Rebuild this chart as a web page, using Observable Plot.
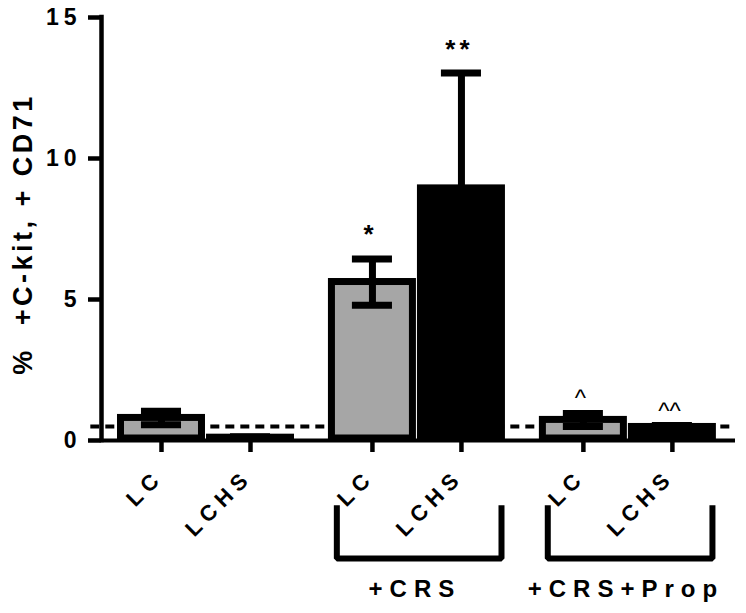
<!DOCTYPE html>
<html>
<head>
<meta charset="utf-8">
<script src="https://cdn.jsdelivr.net/npm/d3@7"></script>
<script src="https://cdn.jsdelivr.net/npm/@observablehq/plot@0.6"></script>
<style>
  body { margin: 0; background: #fff; }
</style>
</head>
<body>
<div id="chart"></div>
<script>
// ---- data ----
const groups = ["", "+CRS", "+CRS+Prop"];
const conditions = ["LC", "LCHS", "LC", "LCHS", "LC", "LCHS"];
const groupIndex = [0, 0, 1, 1, 2, 2];
const means = [0.8, 0.1, 5.62, 8.94, 0.73, 0.48];
const sems = [0.24, 0.03, 0.82, 4.09, 0.23, 0.05];
const significance = ["", "", "*", "**", "^", "^^"];
const yTicks = [0, 5, 10, 15];
const referenceLevel = 0.5;
const yTitle = "%  +C-kit, + CD71";

// ---- layout helpers ----
const GROUP_STEP = 2.37;
const counts = {};
const bars = conditions.map((c, i) => {
  const g = groupIndex[i];
  const k = counts[g] = (counts[g] ?? -1) + 1;
  return {condition: c, g, group: groups[g], pos: g * GROUP_STEP + k,
          mean: means[i], sem: sems[i], sig: significance[i]};
});
const xDomain = [-0.674, 6.449];
const caps = bars.flatMap(d => [{...d, v: d.mean + d.sem}, {...d, v: d.mean - d.sem}]);

const groupInfo = groups.map((name, g) => {
  const ps = bars.filter(d => d.g === g).map(d => d.pos);
  return {name, g, left: d3.min(ps) - 0.4, right: d3.max(ps) + 0.45, center: d3.mean(ps)};
}).filter(d => d.name !== "");
const bracketTop = -2.3, bracketBottom = -4.18;
const bracketPts = groupInfo.flatMap(d => [
  {g: d.g, x: d.left, y: bracketTop},
  {g: d.g, x: d.left, y: bracketBottom},
  {g: d.g, x: d.right, y: bracketBottom},
  {g: d.g, x: d.right, y: bracketTop}
]);

const font = "'Liberation Sans', Arial, Helvetica, sans-serif";

const chart = Plot.plot({
  width: 746,
  height: 613,
  marginLeft: 101,
  marginRight: 11,
  marginTop: 17,
  marginBottom: 173,
  style: {fontFamily: font, background: "#fff", color: "#000"},
  x: {type: "linear", domain: xDomain},
  y: {domain: [0, d3.max(yTicks)]},
  color: {domain: ["LC", "LCHS"], range: ["#a6a6a6", "#000000"]},
  marks: [
    Plot.ruleY([referenceLevel], {x1: xDomain[0] - 0.12, x2: xDomain[1], stroke: "#000", strokeWidth: 4, strokeDasharray: "9,6"}),
    Plot.rect(bars, {x1: d => d.pos - 0.455, x2: d => d.pos + 0.455, y1: 0, y2: "mean", fill: "condition", stroke: "#000", strokeWidth: 7, insetBottom: 2}),
    Plot.ruleX(bars, {x: "pos", y1: d => d.mean - d.sem, y2: d => d.mean + d.sem, stroke: "#000", strokeWidth: 7}),
    Plot.ruleY(caps, {y: "v", x1: d => d.pos - 0.225, x2: d => d.pos + 0.225, stroke: "#000", strokeWidth: 7}),
    Plot.ruleY([0], {stroke: "#000", strokeWidth: 4}),
    Plot.ruleX([xDomain[0]], {y1: 0, y2: d3.max(yTicks), stroke: "#000", strokeWidth: 4.5, strokeLinecap: "square"}),
    Plot.axisY({ticks: yTicks, tickSize: 13, tickPadding: 7, fontSize: 23, fontWeight: "bold", strokeWidth: 4.5, label: null}),
    Plot.axisX({ticks: bars.map(d => d.pos), tickFormat: () => "", tickSize: 12, strokeWidth: 4.5, label: null}),
    Plot.text([yTitle], {frameAnchor: "left", textAnchor: "middle", rotate: -90, dx: -78, dy: 5, fontSize: 27, fontWeight: "bold"}),
    Plot.text(bars, {x: "pos", y: 0, text: "condition", rotate: -45, textAnchor: "end", dx: -2, dy: 33, fontSize: 22, fontWeight: "bold"}),
    Plot.line(bracketPts, {x: "x", y: "y", z: "g", stroke: "#000", strokeWidth: 6, strokeLinejoin: "miter", strokeLinecap: "butt"}),
    Plot.text(groupInfo, {x: "center", y: 0, text: "name", dy: 149, dx: -2, fontSize: 24, fontWeight: "bold"}),
    Plot.text(bars.filter(d => d.sig.includes("*")), {x: "pos", y: d => d.mean + d.sem, text: "sig", lineAnchor: "bottom", dy: -15.5, dx: -2, fontSize: 26, fontWeight: "bold"}),
    Plot.text(bars.filter(d => d.sig.includes("^")), {x: "pos", y: d => d.mean + d.sem, text: "sig", lineAnchor: "bottom", dy: -7, dx: -3, fontSize: 24, fontWeight: "normal"})
  ]
});
document.getElementById("chart").appendChild(chart);

// letter spacing by text role
const spacing = (t) => {
  if (/^\d+$/.test(t)) return 5;
  if (conditions.includes(t)) return 6;
  if (groups.includes(t) && t !== "") return 7;
  if (t === yTitle) return 3.5;
  if (/^\*+$/.test(t)) return 4;
  return 0;
};
d3.select(chart).selectAll("text").each(function () {
  const ls = spacing(this.textContent);
  if (ls) {
    this.setAttribute("letter-spacing", ls);
    this.style.letterSpacing = ls + "px";
  }
});
</script>
</body>
</html>
